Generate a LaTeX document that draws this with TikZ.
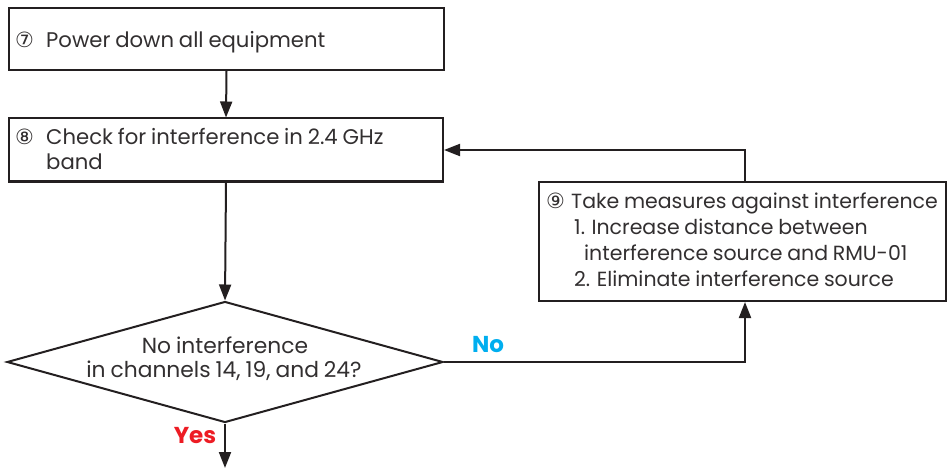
\documentclass[tikz,border=0pt]{standalone}
\usepackage{fontspec}
\setmainfont[WordSpace=0.85]{Poppins}
\newfontfamily\symfont{DejaVu Sans}
\usetikzlibrary{shapes.geometric,arrows.meta}
\definecolor{ink}{RGB}{35,31,32}
\definecolor{txt}{RGB}{50,47,48}
\definecolor{nocol}{RGB}{0,174,239}
\definecolor{yescol}{RGB}{237,28,36}
\newcommand\cnum[2]{\makebox[#2][l]{\symfont\fontsize{21}{21}\selectfont #1}}
\begin{document}
\begin{tikzpicture}[x=1pt,y=-1pt,
  font=\fontsize{21.2}{25}\selectfont,
  box/.style={draw=ink, line width=2pt, inner sep=0pt},
  txtline/.style={anchor=base west, inner sep=0pt, text=txt},
  smalltxt/.style={txtline, font=\fontsize{20.5}{25}\selectfont},
  conn/.style={draw=ink, line width=2pt, -{Triangle[length=16pt,width=12pt]}},
  lbl/.style={font=\fontsize{23}{24}\selectfont\bfseries}
]
\useasboundingbox (0,0) rectangle (948,468);
% boxes
\node[box, minimum width=435pt, minimum height=62pt] (s7) at (226.5,39) {};
\node[box, minimum width=434pt, minimum height=63pt] (s8) at (226,150) {};
\node[box, minimum width=407pt, minimum height=119pt] (s9) at (742.5,241.5) {};
\node[diamond, draw=ink, line width=2pt, minimum width=436pt, minimum height=121pt, inner sep=0pt] (dec) at (225,362) {};
% texts
\node[txtline] (t7) at (15,48) {\cnum{⑦}{31pt}Power down all equipment};
\node[txtline] (t8a) at (15,145) {\cnum{⑧}{31pt}Check for interference in 2.4 GHz};
\node[txtline] (t8b) at (46,170) {band};
\node[smalltxt] (t9a) at (546,208) {\cnum{⑨}{25pt}Take measures against interference};
\node[smalltxt] (t9b) at (574,234) {1. Increase distance between};
\node[smalltxt] (t9c) at (584,260) {interference source and RMU-01};
\node[smalltxt] (t9d) at (574,286) {2. Eliminate interference source};
\node[anchor=base, inner sep=0pt, text=txt, font=\fontsize{21.8}{25}\selectfont] (d1) at (225,353) {No interference};
\node[anchor=base, inner sep=0pt, text=txt, font=\fontsize{21.8}{25}\selectfont] (d2) at (224,377) {in channels 14, 19, and 24?};
% connectors
\coordinate (out) at (225,468);
\coordinate (bend1) at (745,362);
\coordinate (bend2) at (745,150);
\draw[conn] (s7.south) -- (s8.north);
\draw[conn] (s8.south) -- (dec.north);
\draw[conn] (dec.south) -- (out);
\draw[conn] (dec.east) -- (bend1) -- (s9.south -| bend1);
\draw[conn] (s9.north -| bend2) -- (bend2) -- (s8.east |- bend2);
\node[lbl, text=nocol] (no) at (488,345) {No};
\node[lbl, text=yescol] (yes) at (195,436) {Yes};
\end{tikzpicture}
\end{document}
